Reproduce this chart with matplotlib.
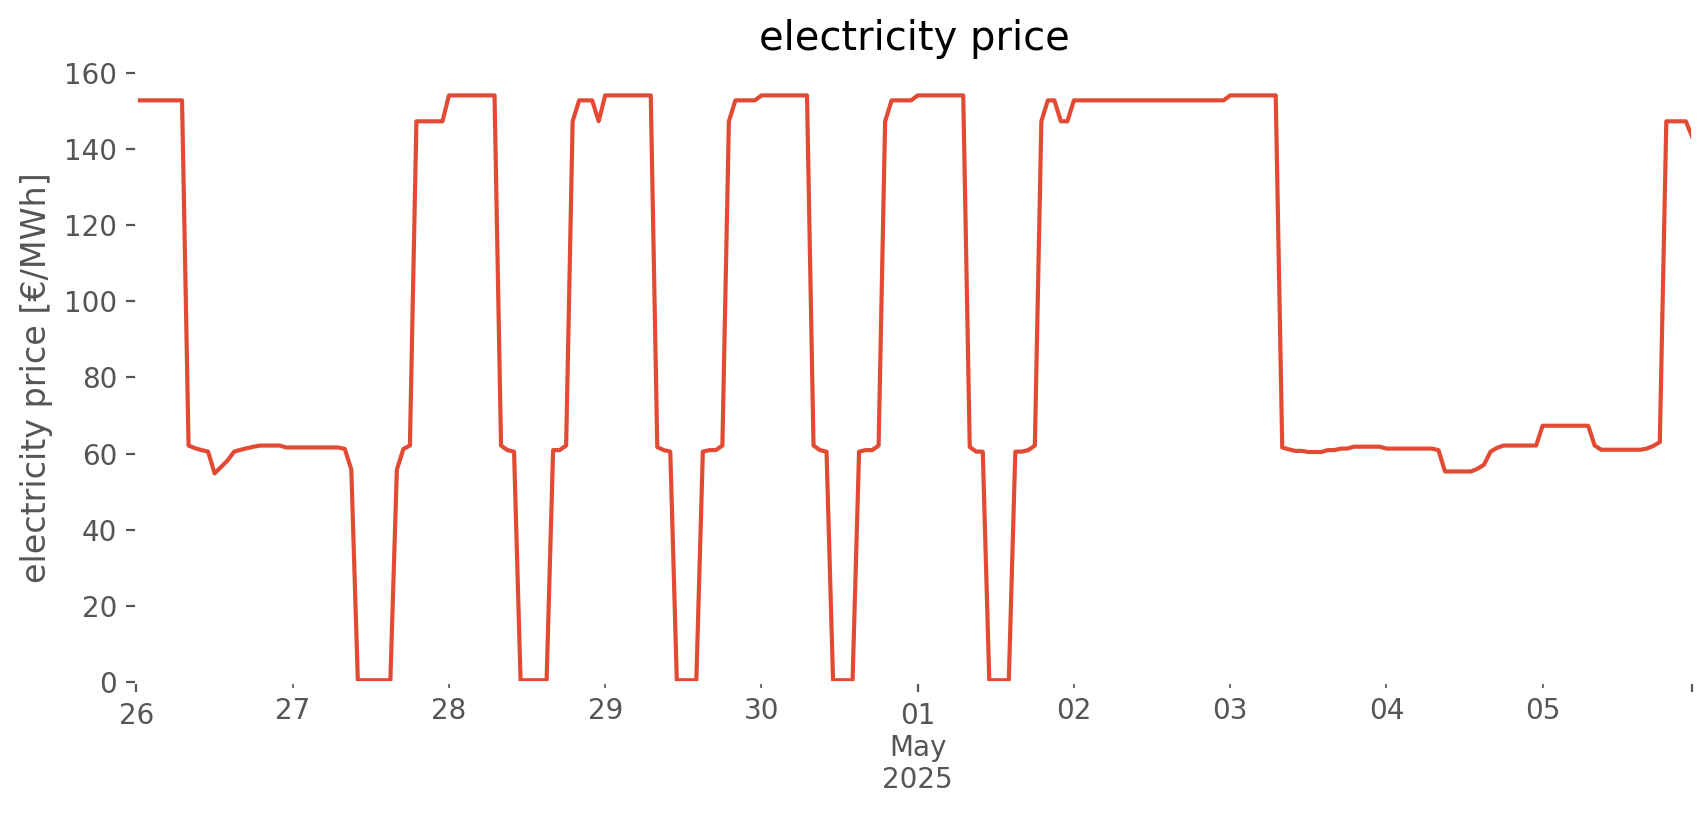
import matplotlib
matplotlib.use("Agg")
import matplotlib.pyplot as plt
import pandas as pd

# hourly day-ahead price, 26 Apr 2025 00:00 .. 05 May 2025 23:00
START = "2025-04-26 00:00"

apr26 = [152.7] * 8 + [62.1, 61.4, 60.9, 60.5, 54.8, 56.5, 58.2, 60.5,
                       61.0, 61.4, 61.8, 62.1, 62.1, 62.1, 62.1, 61.6]
apr27 = [61.6] * 8 + [61.2, 55.8] + [0.5] * 6 + [55.8, 61.2, 62.1] + [147.2] * 5
apr28 = [154.0] * 8 + [62.1, 60.9, 60.5] + [0.5] * 5 + [60.9, 60.9, 62.1, 147.2,
                                                        152.7, 152.7, 152.7, 147.2]
apr29 = [154.0] * 8 + [61.7, 60.9, 60.5] + [0.5] * 4 + [60.5, 60.9, 60.9, 62.1, 147.2,
                                                        152.7, 152.7, 152.7, 152.7]
apr30 = [154.0] * 8 + [62.1, 60.9, 60.5] + [0.5] * 4 + [60.5, 60.9, 60.9, 62.1, 147.2,
                                                        152.7, 152.7, 152.7, 152.7]
may01 = [154.0] * 8 + [61.7, 60.5, 60.5] + [0.5] * 4 + [60.5, 60.5, 60.9, 62.1, 147.2,
                                                        152.7, 152.7, 147.2, 147.2]
may02 = [152.7] * 24
may03 = [154.0] * 8 + [61.6, 61.1, 60.7, 60.7, 60.4, 60.4, 60.4, 60.9,
                       60.9, 61.3, 61.3, 61.8, 61.8, 61.8, 61.8, 61.8]
may04 = [61.3] * 8 + [60.9] + [55.3] * 5 + [56.0, 57.1, 60.5, 61.5] + [62.1] * 6
may05 = [67.3] * 8 + [62.1] + [61.0] * 7 + [61.3, 62.0, 63.0] + [147.2] * 4 + [143.0]

prices = apr26 + apr27 + apr28 + apr29 + apr30 + may01 + may02 + may03 + may04 + may05
index = pd.date_range(START, periods=len(prices), freq="h")
series = pd.Series(prices, index=index, name="electricity price")

plt.style.use("ggplot")

fig, ax = plt.subplots(figsize=(8.53, 4.075), dpi=200)
fig.subplots_adjust(left=0.08, right=0.992, bottom=0.163, top=0.911)
ax.set_facecolor("white")

series.plot(ax=ax)
ax.grid(False)
ax.set_ylim(0, 160)
ax.set_title("electricity price", pad=8)
ax.set_ylabel("electricity price [€/MWh]")
ax.set_xlabel("")

fig.savefig("out.png", dpi=200)
